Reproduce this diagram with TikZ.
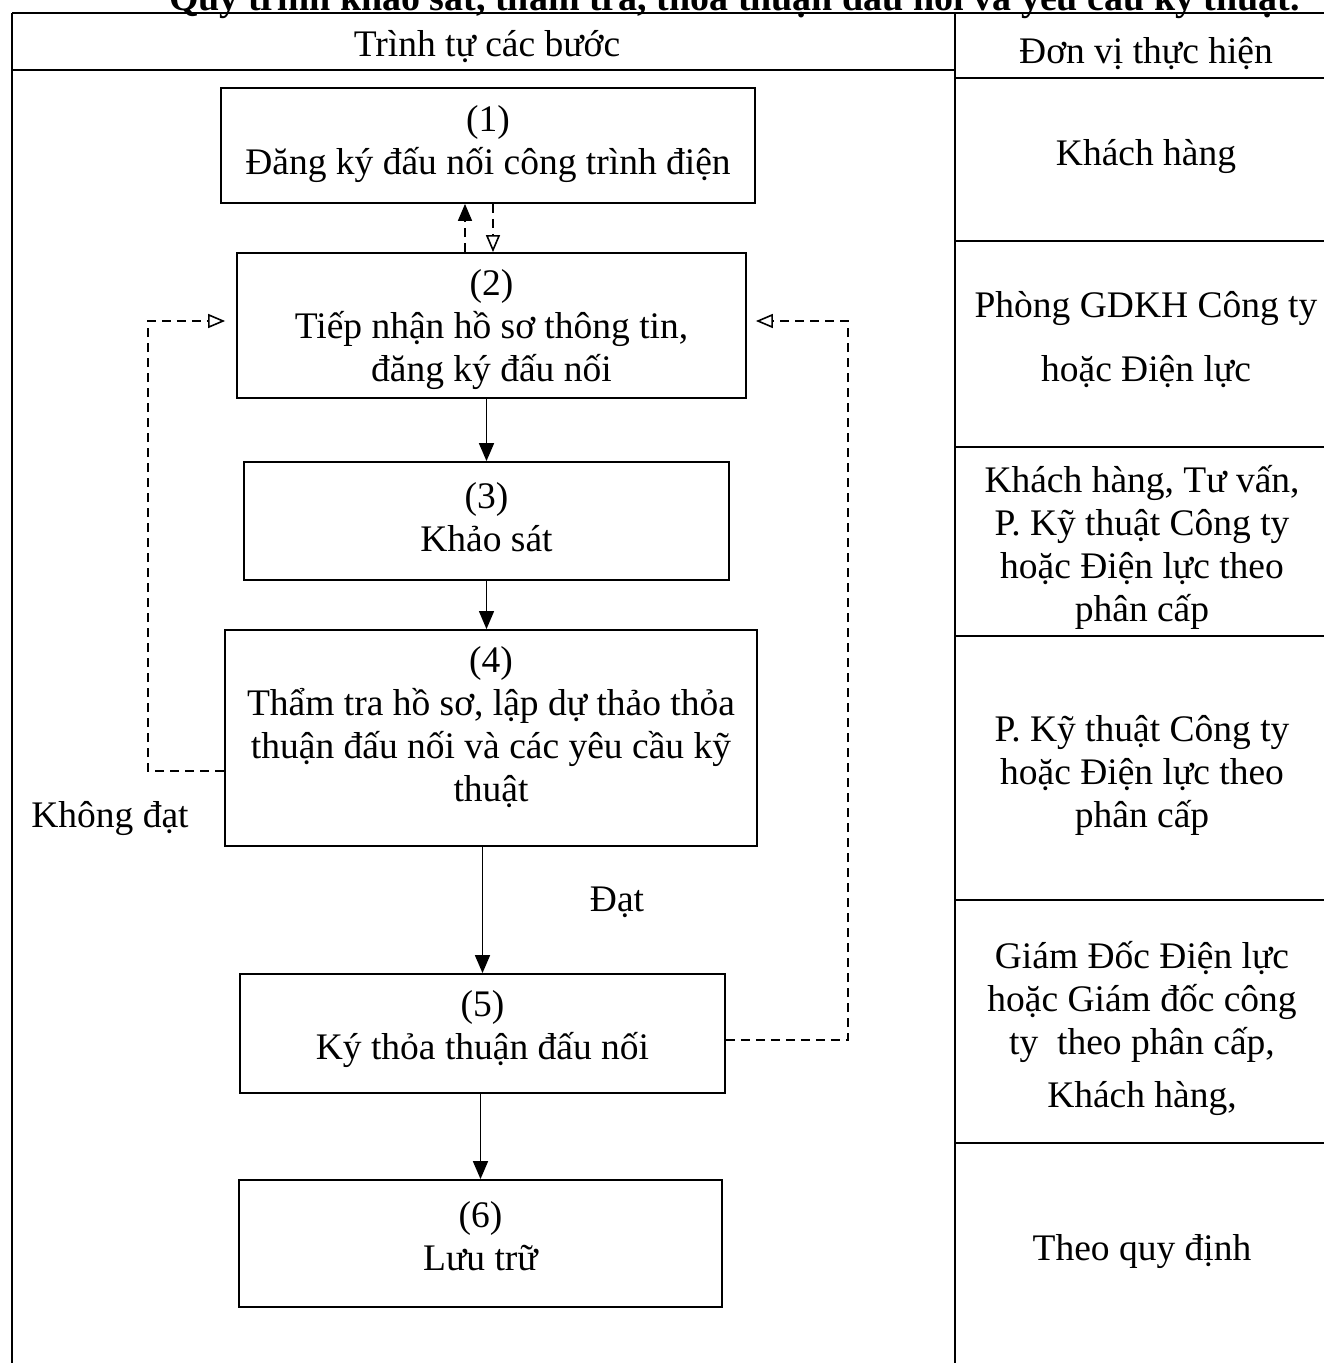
\documentclass[tikz,border=0pt]{standalone}
\usepackage{fontspec}
\setmainfont{Liberation Serif}
\usetikzlibrary{arrows.meta}
\tikzset{
  tline/.style={line width=1.8pt},
  box/.style={draw, line width=1.8pt, rectangle, inner sep=0pt},
  txt/.style={font=\fontsize{37.5}{43}\selectfont, align=center, inner sep=0pt},
  solidarrow/.style={line width=1.6pt, -{Triangle[length=18pt,width=15pt]}},
  dasharrow/.style={line width=1.6pt, dash pattern=on 9pt off 6pt, -{Triangle[open,length=17pt,width=14pt,line width=1.6pt]}},
  dashline/.style={line width=1.6pt, dash pattern=on 9pt off 6pt},
}
\begin{document}
\begin{tikzpicture}[x=1pt,y=-1pt]
\useasboundingbox (0,0) rectangle (1324,1363);
\fill[white] (0,0) rectangle (1324,1363);

% cut-off title
\node[font=\fontsize{38}{43}\selectfont\bfseries, anchor=base east, inner sep=0pt] (title) at (1300,10) {Quy trình khảo sát, thẩm tra, thỏa thuận đấu nối và yêu cầu kỹ thuật.};

% table
\draw[tline] (12,13) -- (1324,13);
\draw[tline] (12,13) -- (12,1363);
\draw[tline] (955,13) -- (955,1363);
\draw[tline] (12,70) -- (955,70);
\draw[tline] (955,78) -- (1324,78);
\foreach \yy in {241,447,636,900,1143} \draw[tline] (955,\yy) -- (1324,\yy);

% headers
\node[txt] (h1) at (487,47) {Trình tự các bước};
\node[txt] (h2) at (1146,54) {Đơn vị thực hiện};

% boxes
\node[box, minimum width=534pt, minimum height=115pt] (n1) at (488,145.5) {};
\node[txt] (t1) at (488,144) {(1)\\Đăng ký đấu nối công trình điện};
\node[box, minimum width=509pt, minimum height=145pt] (n2) at (491.5,325.5) {};
\node[txt] (t2) at (491.5,330) {(2)\\Tiếp nhận hồ sơ thông tin,\\đăng ký đấu nối};
\node[box, minimum width=485pt, minimum height=118pt] (n3) at (486.5,521) {};
\node[txt] (t3) at (486.5,517) {(3)\\Khảo sát};
\node[box, minimum width=532pt, minimum height=216pt] (n4) at (491,738) {};
\node[txt] (t4) at (491,727) {(4)\\Thẩm tra hồ sơ, lập dự thảo thỏa\\thuận đấu nối và các yêu cầu kỹ\\thuật};
\node[box, minimum width=485pt, minimum height=119pt] (n5) at (482.5,1033.5) {};
\node[txt] (t5) at (482.5,1029) {(5)\\Ký thỏa thuận đấu nối};
\node[box, minimum width=483pt, minimum height=127pt] (n6) at (480.5,1243.5) {};
\node[txt] (t6) at (480.5,1236) {(6)\\Lưu trữ};

% right column
\node[txt] (r1) at (1146,157) {Khách hàng};
\node[txt] (r2) at (1146,340) {Phòng GDKH Công ty\\[21pt]hoặc Điện lực};
\node[txt] (r3) at (1142,547) {Khách hàng, Tư vấn,\\P. Kỹ thuật Công ty\\hoặc Điện lực theo\\phân cấp};
\node[txt] (r4) at (1142,775) {P. Kỹ thuật Công ty\\hoặc Điện lực theo\\phân cấp};
\node[txt] (r5) at (1142,1028) {Giám Đốc Điện lực\\hoặc Giám đốc công\\ty\ \ theo phân cấp,\\[10pt]Khách hàng,};
\node[txt] (r6) at (1142,1252) {Theo quy định};

% arrows between 1 and 2
\draw[dashline, -{Triangle[length=17pt,width=14pt]}] ([xshift=-26.5pt]n2.north) -- ([xshift=-26.5pt]n2.north |- n1.south);
\draw[dasharrow] ([xshift=5pt]n1.south) -- ([xshift=5pt]n1.south |- n2.north);

% main flow
\draw[solidarrow] (n3.north |- n2.south) -- (n3.north);
\draw[solidarrow, line width=1.2pt] (n3.south) -- (n3.south |- n4.north);
\draw[solidarrow] (n5.north |- n4.south) -- (n5.north);
\draw[solidarrow] (n6.north |- n5.south) -- (n6.north);

% loops
\coordinate (L) at (148,321);
\coordinate (R) at (848,321);
\draw[dasharrow, shorten >=11pt] ([yshift=-33pt]n4.west) -| (L) -- (L -| n2.west);
\draw[dasharrow, shorten >=9pt] ([yshift=-6.5pt]n5.east) -| (R) -- (R -| n2.east);

% labels
\node[txt] (lk) at (110,818) {Không đạt};
\node[txt] (ld) at (617,902) {Đạt};
\end{tikzpicture}
\end{document}
